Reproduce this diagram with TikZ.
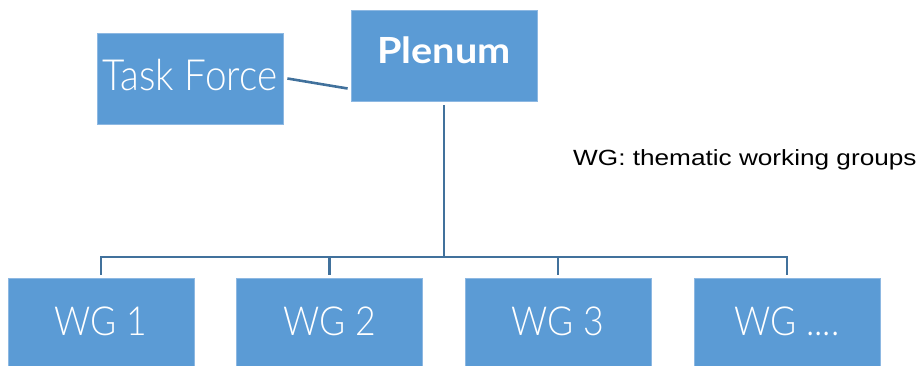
\documentclass[tikz,border=0pt]{standalone}
\usepackage{fontspec}
\setmainfont{Lato}[UprightFont=* Light, BoldFont=* Bold]
\newfontfamily\notefont{Liberation Sans}
\definecolor{boxblue}{HTML}{5B9BD5}
\definecolor{boxedge}{HTML}{8DB8E2}
\definecolor{linkblue}{HTML}{41719C}
\begin{document}
\begin{tikzpicture}[x=1pt,y=-1pt,
  unit/.style={rectangle, fill=boxblue, draw=boxedge, line width=0.8pt,
    text=white, inner sep=0pt, text depth=0pt,
    minimum width=186pt, minimum height=91pt},
  wgbox/.style={unit, minimum height=90pt, text height=29pt,
    font=\fontsize{40}{44}\selectfont},
  conn/.style={draw=linkblue, line width=2.6pt}]
\useasboundingbox (0,0) rectangle (924,366);
% top level
\node[unit, text height=26pt, font=\bfseries\fontsize{36}{40}\selectfont] (pl)
  at (444,55.5) {\raisebox{4.5pt}{\scalebox{1.1}[1]{Plenum}}};
\node[unit, text height=31pt, font=\fontsize{43}{47}\selectfont] (tf)
  at (190,78.5) {\raisebox{3pt}{\scalebox{0.9}[1]{Task Force}}};
% working groups
\node[wgbox] (wg1) at (101,323) {\raisebox{2pt}{\scalebox{0.89}[1]{WG 1}}};
\node[wgbox] (wg2) at (329.5,323) {\raisebox{2pt}{\scalebox{0.89}[1]{WG 2}}};
\node[wgbox] (wg3) at (558,323) {\raisebox{2pt}{\scalebox{0.89}[1]{WG 3}}};
\node[wgbox] (wg4) at (787,323) {\raisebox{2pt}{\scalebox{0.89}[1]{WG ....}}};
% note
\node[anchor=base west, inner sep=0pt, font=\notefont\fontsize{22}{24}\selectfont] (note)
  at (573,166) {\scalebox{1.19}[1]{WG: thematic working groups}};
% connectors
\coordinate (bus) at (444,257);
\draw[conn] ([xshift=4pt]tf.east) -- ([xshift=-3pt,yshift=-33pt]pl.west);
\draw[conn] ([yshift=-4pt]pl.south) -- (bus);
\draw[conn] ([yshift=3pt]wg1.north) -- (wg1.north |- bus) -- (wg4.north |- bus) -- ([yshift=3pt]wg4.north);
\draw[conn] ([yshift=3pt]wg2.north) -- (wg2.north |- bus);
\draw[conn] ([yshift=3pt]wg3.north) -- (wg3.north |- bus);
\end{tikzpicture}
\end{document}
